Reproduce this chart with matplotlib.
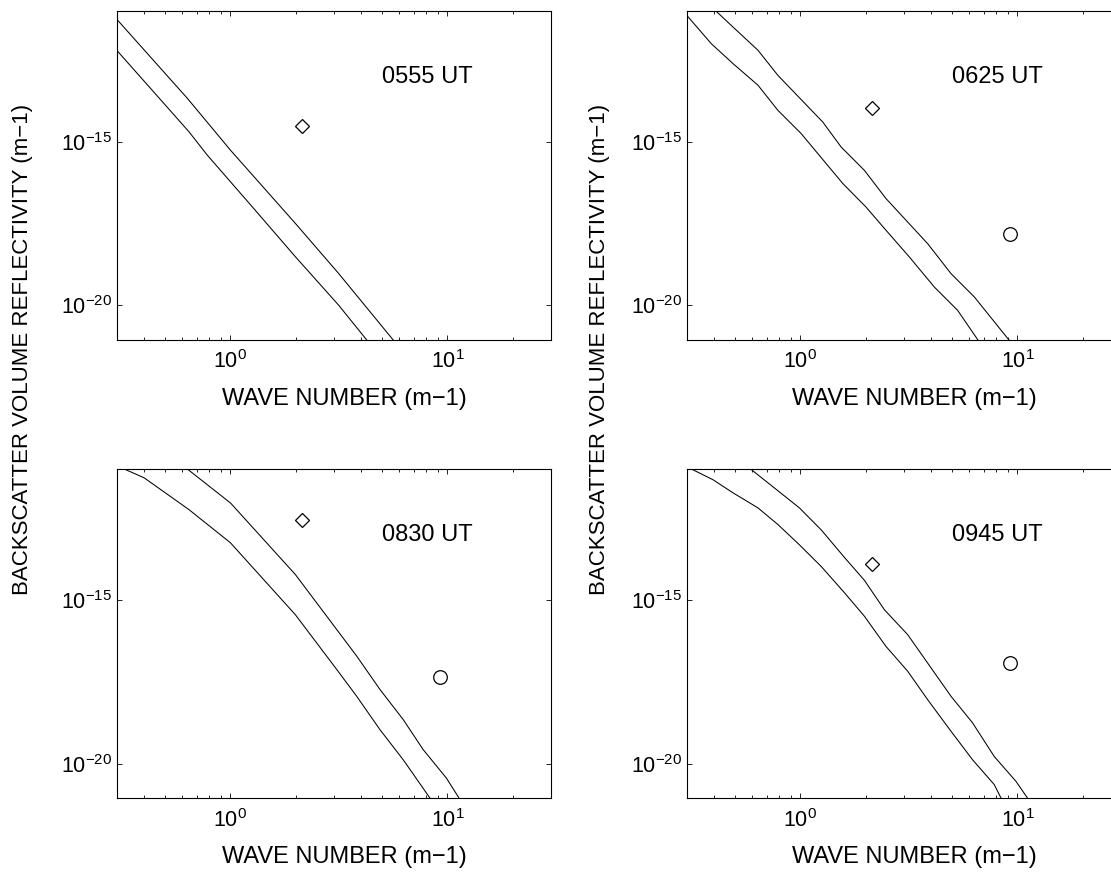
import numpy as np
import matplotlib
matplotlib.use("Agg")
import matplotlib.pyplot as plt
from matplotlib import font_manager as fm
from matplotlib.ticker import (LogLocator, NullFormatter, NullLocator,
                               LogFormatterMathtext, FixedLocator)

plt.rcParams.update({
    'font.family': ['Liberation Sans', 'DejaVu Sans'],
    'mathtext.fontset': 'custom',
    'mathtext.rm': 'Liberation Sans',
    'mathtext.it': 'Liberation Sans:italic',
    'mathtext.bf': 'Liberation Sans:bold',
    'mathtext.sf': 'Liberation Sans',
    'mathtext.default': 'rm',
})

# ---------------- data (log10 of wave number k [m^-1], log10 of reflectivity [m^-1]) ----
times = ["0555 UT", "0625 UT", "0830 UT", "0945 UT"]

tl_up_k = [-0.523, -0.199, 0.0, 0.299, 0.498, 0.750, 0.80]
tl_up_e = [-11.25, -13.66, -15.25, -17.49, -19.02, -21.06, -21.46]
tl_lo_k = [-0.523, -0.192, -0.107, 0.100, 0.299, 0.498, 0.628, 0.70]
tl_lo_e = [-12.20, -14.68, -15.40, -16.98, -18.51, -19.99, -21.06, -21.65]

tr_up_k = [-0.523, -0.388, -0.311, -0.196, -0.104, 0.103, 0.187, 0.295, 0.394,
           0.586, 0.694, 0.801, 0.962, 1.0]
tr_up_e = [-10.16, -11.00, -11.48, -12.19, -12.96, -14.39, -15.15, -15.87, -16.73,
           -18.11, -19.03, -19.74, -21.07, -21.4]
tr_lo_k = [-0.523, -0.411, -0.311, -0.196, -0.104, 0.003, 0.087, 0.195, 0.302,
           0.394, 0.502, 0.617, 0.724, 0.824, 0.85]
tr_lo_e = [-11.13, -11.99, -12.60, -13.26, -14.03, -14.74, -15.41, -16.27, -16.99,
           -17.70, -18.52, -19.44, -20.15, -21.12, -21.3]

bl_up_k = [-0.523, -0.199, 0.0, 0.299, 0.582, 0.689, 0.796, 0.888, 0.995, 1.053, 1.10]
bl_up_e = [-9.30, -10.98, -12.02, -14.21, -16.71, -17.73, -18.65, -19.57, -20.44, -21.05, -21.55]
bl_lo_k = [-0.523, -0.490, -0.398, -0.192, 0.0, 0.299, 0.490, 0.582, 0.689, 0.796, 0.919, 0.95]
bl_lo_e = [-10.88, -10.98, -11.25, -12.22, -13.24, -15.44, -17.12, -17.94, -18.96, -19.88,
           -21.05, -21.35]

br_up_k = [-0.523, -0.230, -0.005, 0.095, 0.203, 0.295, 0.387, 0.494, 0.586, 0.694,
           0.793, 0.893, 0.993, 1.046, 1.10]
br_up_e = [-9.43, -10.98, -12.17, -12.84, -13.69, -14.39, -15.29, -16.05, -16.92, -17.94,
           -18.75, -19.78, -20.54, -21.05, -21.6]
br_lo_k = [-0.523, -0.503, -0.403, -0.311, -0.196, -0.104, -0.005, 0.095, 0.203, 0.295,
           0.394, 0.494, 0.586, 0.694, 0.793, 0.893, 0.924, 0.95]
br_lo_e = [-10.91, -10.98, -11.31, -11.71, -12.17, -12.68, -13.30, -13.96, -14.77, -15.49,
           -16.41, -17.17, -18.04, -19.01, -19.88, -20.64, -21.05, -21.4]

# diamond and circle observations (log10 k, log10 eta); None = absent
diamond_k = [0.329, 0.330, 0.329, 0.330]
diamond_e = [-14.51, -13.95, -12.53, -13.88]
circle_k = [None, 0.966, 0.965, 0.966]
circle_e = [None, -17.83, -17.35, -16.92]

label_k, label_e = np.log10(5.0), -13.0

upper_k = [tl_up_k, tr_up_k, bl_up_k, br_up_k]
upper_e = [tl_up_e, tr_up_e, bl_up_e, br_up_e]
lower_k = [tl_lo_k, tr_lo_k, bl_lo_k, br_lo_k]
lower_e = [tl_lo_e, tr_lo_e, bl_lo_e, br_lo_e]

xlim = (0.3, 30.0)
ylim = (10 ** -21.06, 10 ** -10.99)

# ---------------- figure ----------------
W, H = 1111, 872
fig = plt.figure(figsize=(W / 100, H / 100), dpi=100)


def rect(l, t, r, b):
    return [l / W, 1 - b / H, (r - l) / W, (b - t) / H]


positions = [rect(117, 11, 551, 340), rect(687, 11, 1121, 340),
             rect(117, 469.3, 551, 798.3), rect(687, 469.3, 1121, 798.3)]

p10 = lambda v: np.power(10.0, np.asarray(v, dtype=float))

for i, pos in enumerate(positions):
    ax = fig.add_axes(pos)
    ax.set_xscale('log')
    ax.set_yscale('log')
    ax.plot(p10(upper_k[i]), p10(upper_e[i]), color='k', lw=0.75)
    ax.plot(p10(lower_k[i]), p10(lower_e[i]), color='k', lw=0.75)
    ax.plot(p10([diamond_k[i]]), p10([diamond_e[i]]), ls='none', marker='D',
            mfc='none', mec='k', ms=6.7, mew=0.9)
    if circle_k[i] is not None:
        ax.plot(p10([circle_k[i]]), p10([circle_e[i]]), ls='none', marker='o',
                mfc='none', mec='k', ms=9.8, mew=0.9)
    ax.text(10 ** label_k, 10 ** label_e, times[i], fontsize=17, ha='left', va='center')
    ax.set_xlim(*xlim)
    ax.set_ylim(*ylim)
    ax.xaxis.set_major_locator(FixedLocator([1.0, 10.0]))
    ax.xaxis.set_minor_locator(LogLocator(base=10, subs=np.arange(2, 10) * 1.0, numticks=30))
    ax.xaxis.set_major_formatter(LogFormatterMathtext())
    ax.xaxis.set_minor_formatter(NullFormatter())
    ax.yaxis.set_major_locator(FixedLocator([1e-20, 1e-15]))
    ax.yaxis.set_minor_locator(NullLocator())
    ax.yaxis.set_major_formatter(LogFormatterMathtext())
    ax.tick_params(which='both', direction='in', top=True, right=True, width=0.6)
    ax.tick_params(which='major', length=3.4, labelsize=15.5)
    ax.tick_params(which='minor', length=2.0)
    ax.tick_params(axis='x', which='major', pad=7.5)
    ax.tick_params(axis='y', which='major', pad=3.6)
    for s in ax.spines.values():
        s.set_linewidth(0.8)
    ax.set_xlabel("WAVE NUMBER (m\u22121)", fontsize=17)
    ax.xaxis.set_label_coords(0.523, -0.146)

names = {f.name for f in fm.fontManager.ttflist}
if 'Liberation Sans Narrow' in names:
    yl_family, yl_size = ['Liberation Sans Narrow', 'Liberation Sans'], 19
else:
    yl_family, yl_size = ['Liberation Sans', 'DejaVu Sans'], 16
ylabel = "BACKSCATTER VOLUME REFLECTIVITY (m\u22121)"
for xc in (22.5, 599):
    fig.text(xc / W, 1 - 349 / H, ylabel, rotation=90, ha='center', va='center',
             fontsize=yl_size, family=yl_family)

fig.savefig("out.png", dpi=100)
